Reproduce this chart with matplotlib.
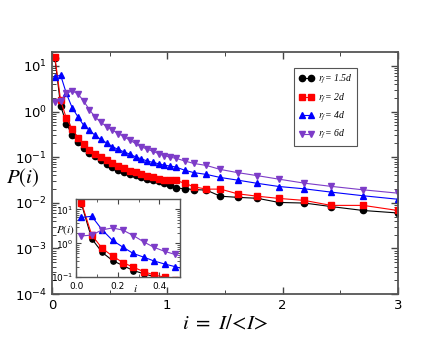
import numpy as np
import matplotlib.pyplot as plt
from matplotlib.ticker import LogLocator, MultipleLocator, NullFormatter

plt.rcParams['mathtext.fontset'] = 'stix'

# bin centres (i = I/<I>)
i_vals = [0.025, 0.075, 0.125, 0.175, 0.225, 0.275, 0.325, 0.375, 0.425, 0.475,
          0.525, 0.575, 0.625, 0.675, 0.725, 0.775, 0.825, 0.875, 0.925, 0.975,
          1.025, 1.075, 1.15, 1.23, 1.34, 1.46, 1.61, 1.78, 1.97, 2.19, 2.42, 2.70, 3.0]

# P(i) for each r_f
p_15d = [15, 1.36, 0.54, 0.31, 0.22, 0.157, 0.126, 0.104, 0.087, 0.072,
         0.061, 0.053, 0.047, 0.043, 0.040, 0.037, 0.034, 0.032, 0.030, 0.027,
         0.025, 0.021, 0.0205, 0.0196, 0.019, 0.014, 0.0132, 0.0126, 0.0102, 0.0099, 0.0083, 0.0068, 0.006]
p_2d = [16, 1.76, 0.71, 0.42, 0.27, 0.196, 0.146, 0.116, 0.10, 0.085,
        0.073, 0.064, 0.057, 0.051, 0.047, 0.043, 0.039, 0.036, 0.034, 0.032,
        0.031, 0.031, 0.027, 0.0225, 0.020, 0.020, 0.0158, 0.014, 0.0125, 0.0113, 0.0088, 0.0088, 0.0068]
p_4d = [5.8, 6.3, 2.5, 1.22, 0.77, 0.50, 0.39, 0.30, 0.245, 0.205,
        0.17, 0.148, 0.131, 0.117, 0.102, 0.092, 0.083, 0.077, 0.072, 0.067,
        0.064, 0.061, 0.052, 0.046, 0.042, 0.036, 0.0315, 0.0268, 0.0228, 0.0203, 0.0172, 0.0143, 0.012]
p_6d = [1.65, 1.75, 2.5, 2.85, 2.45, 1.7, 1.1, 0.76, 0.58, 0.47,
        0.39, 0.33, 0.28, 0.237, 0.20, 0.17, 0.15, 0.135, 0.12, 0.108,
        0.10, 0.095, 0.083, 0.073, 0.066, 0.054, 0.046, 0.0395, 0.033, 0.027, 0.023, 0.0193, 0.0163]

labels = ['1.5d', '2d', '4d', '6d']
series = [p_15d, p_2d, p_4d, p_6d]
colors = ['black', 'red', 'blue', '#7d3cc8']
markers = ['o', 's', '^', 'v']

fig = plt.figure(figsize=(4.48, 3.46), dpi=100)
ax = fig.add_axes([0.116, 0.150, 0.772, 0.699])

for y, lab, c, m in zip(series, labels, colors, markers):
    ax.plot(i_vals, y, color=c, marker=m, markersize=4.5, linewidth=0.8,
            label=r'$r_f$= ' + lab)

ax.set_yscale('log')
ax.set_xlim(0, 3)
ax.set_ylim(1e-4, 20)
ax.xaxis.set_major_locator(MultipleLocator(1))
ax.xaxis.set_minor_locator(MultipleLocator(0.5))
ax.yaxis.set_major_locator(LogLocator(base=10, numticks=10))
ax.yaxis.set_minor_locator(LogLocator(base=10, subs=np.arange(2, 10), numticks=20))
ax.yaxis.set_minor_formatter(NullFormatter())
ax.tick_params(which='both', direction='in', top=True, right=True, labelsize=9.5,
               color='#444444')
ax.tick_params(which='major', length=5, width=1)
ax.tick_params(which='minor', length=3, width=0.7)
for s in ax.spines.values():
    s.set_color('#555555')
    s.set_linewidth(1.3)

ax.set_xlabel(r'$i\ =\ I/\!<\!I\!>$', fontsize=15, labelpad=1)
ax.set_ylabel(r'$P(i)$', fontsize=15, rotation=0, va='center', ha='center')
ax.yaxis.set_label_coords(-0.085, 0.48)

leg = ax.legend(loc='upper left', bbox_to_anchor=(0.656, 0.803),
                bbox_transform=fig.transFigure, numpoints=2, handlelength=1.6,
                handletextpad=0.4, fancybox=False, edgecolor='#555555', framealpha=1,
                prop={'family': 'Liberation Serif', 'style': 'italic', 'size': 7},
                labelspacing=0.55, borderpad=0.5, borderaxespad=0)
leg.get_frame().set_linewidth(0.8)

# inset
ins = fig.add_axes([0.170, 0.199, 0.232, 0.225])
for y, c, m in zip(series, colors, markers):
    ins.plot(i_vals, y, color=c, marker=m, markersize=3.8, linewidth=0.8)
ins.set_yscale('log')
ins.set_xlim(0, 0.5)
ins.set_ylim(0.1, 20)
ins.xaxis.set_major_locator(MultipleLocator(0.2))
ins.xaxis.set_minor_locator(MultipleLocator(0.1))
ins.yaxis.set_minor_locator(LogLocator(base=10, subs=np.arange(2, 10), numticks=20))
ins.yaxis.set_minor_formatter(NullFormatter())
ins.tick_params(which='both', direction='in', top=True, right=True, labelsize=6.5,
                pad=2, color='#444444')
ins.tick_params(axis='x', pad=3.5)
ins.tick_params(which='major', length=3.5, width=0.8)
ins.tick_params(which='minor', length=2, width=0.6)
for s in ins.spines.values():
    s.set_color('#555555')
    s.set_linewidth(1.0)
ins.set_xlabel(r'$i$', fontsize=8)
ins.xaxis.set_label_coords(0.57, -0.07)
ins.set_ylabel(r'$P(i)$', fontsize=8, rotation=0, va='center', ha='center')
ins.yaxis.set_label_coords(-0.1, 0.6)

plt.savefig('out.png', dpi=100)
